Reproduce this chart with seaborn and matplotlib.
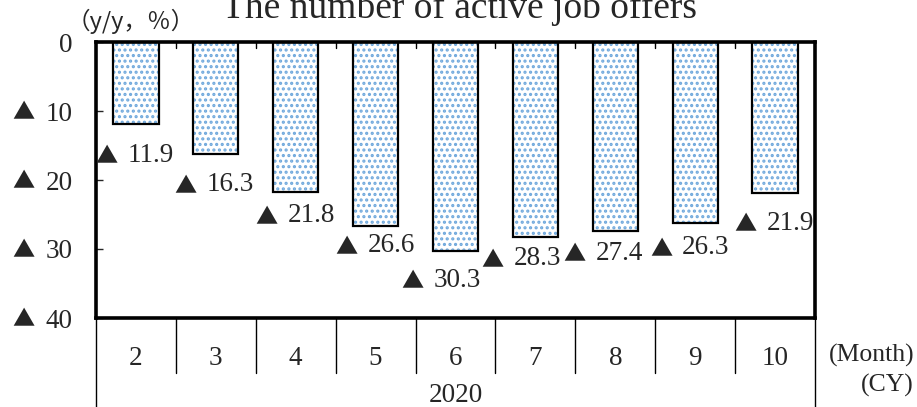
import matplotlib
matplotlib.use("Agg")
import matplotlib.pyplot as plt
import matplotlib.transforms as mtransforms
import seaborn as sns
import pandas as pd

months = ["2", "3", "4", "5", "6", "7", "8", "9", "10"]
decline = [11.9, 16.3, 21.8, 26.6, 30.3, 28.3, 27.4, 26.3, 21.9]
year_label = "2020"
ytick_values = [0, 10, 20, 30, 40]
ytick_numbers = ["0", "10", "20", "30", "40"]
ytick_negative = [False, True, True, True, True]
title = "The number of active job offers"
unit_label = "（y/y，％）"
neg_mark = "▲"

# label offsets (pixels) relative to bar end
label_dx = [0, -1, 0, 0, -14, -14, -12, -5, 0]
label_dy = [-31, -30, -23, -20, -29, -21, -22, -24, -30]

sns.set_theme(style="white")
serif = ["Liberation Serif", "DejaVu Sans"]
mark_font = ["Noto Sans CJK JP", "DejaVu Sans"]
plt.rcParams["font.family"] = serif
plt.rcParams["hatch.linewidth"] = 1.5

FS = 19.5

W, H = 917, 407
fig = plt.figure(figsize=(W / 100, H / 100), dpi=100)
L, R, T, B = 96, 815, 42, 318
ax = fig.add_axes([L / W, (H - B) / H, (R - L) / W, (B - T) / H])

df = pd.DataFrame({"month": months, "decline": decline})

# dotted fill
sns.barplot(data=df, x="month", y="decline", ax=ax, width=0.565,
            color="white", edgecolor="#6fa8dc", linewidth=0, hatch="...",
            saturation=1)
# black outline
sns.barplot(data=df, x="month", y="decline", ax=ax, width=0.565,
            fill=False, edgecolor="black", linewidth=1.6, saturation=1)

ax.set_xlim(-0.5, len(months) - 0.5)
ax.set_ylim(40, 0)
ax.set_xlabel("")
ax.set_ylabel("")

for s in ax.spines.values():
    s.set_linewidth(2.6)
    s.set_color("black")
    s.set_visible(True)

ax.set_yticks(ytick_values)
ax.set_yticklabels(ytick_numbers, fontsize=FS, family=serif)
ax.tick_params(axis="y", direction="in", length=5, width=1, pad=17, left=True)

# negative markers in front of the y tick labels
ytrans = mtransforms.blended_transform_factory(fig.transFigure, ax.transData)
ytrans = ytrans + mtransforms.ScaledTranslation(0, -2 / 100, fig.dpi_scale_trans)
for yv, neg in zip(ytick_values, ytick_negative):
    if neg:
        ax.text(35 / W, yv, neg_mark, transform=ytrans, ha="right", va="center",
                fontsize=16, family=mark_font, clip_on=False)

ax.set_xticks(range(len(months)))
ax.set_xticklabels(months, fontsize=FS, family=serif)
ax.tick_params(axis="x", length=0, pad=20, bottom=False)

# top ticks at category boundaries (inside)
for b in range(1, len(months)):
    ax.plot([b - 0.5, b - 0.5], [0, 0.8], color="black", lw=1)

# value labels: ▲ + number
for i, v in enumerate(decline):
    ax.annotate(neg_mark, xy=(i, v), xytext=(label_dx[i] - 18, label_dy[i] - 2),
                textcoords="offset pixels", ha="right", va="center",
                fontsize=16, family=mark_font, annotation_clip=False)
    ax.annotate(f"{v}", xy=(i, v), xytext=(label_dx[i] - 8, label_dy[i]),
                textcoords="offset pixels", ha="left", va="center",
                fontsize=FS, family=serif, annotation_clip=False)

# category table lines below the axes
trans = mtransforms.blended_transform_factory(ax.transData, ax.transAxes)
y_axes_bottom_fig = -(H - B) / (B - T)
y_inner = -(373 - B) / (B - T)
n = len(months)
for b in range(n + 1):
    x = b - 0.5
    y0 = y_axes_bottom_fig if b in (0, n) else y_inner
    ax.plot([x, x], [0, y0], color="black", lw=1, transform=trans, clip_on=False)

ax.text((n - 1) / 2, -(396 - B) / (B - T), year_label, transform=trans,
        ha="center", va="center", fontsize=FS, family=serif)
fig.text(914 / W, 1 - 355 / H, "(Month)", ha="right", va="center", fontsize=18.5, family=serif)
fig.text(914 / W, 1 - 385 / H, "(CY)", ha="right", va="center", fontsize=18.5, family=serif)

fig.text(460 / W, 1 - 8 / H, title, ha="center", va="center", fontsize=27, family=serif)
fig.text(67 / W, 1 - 21 / H, unit_label, ha="left", va="center", fontsize=17,
         family=mark_font)

fig.savefig("out.png", dpi=100)
